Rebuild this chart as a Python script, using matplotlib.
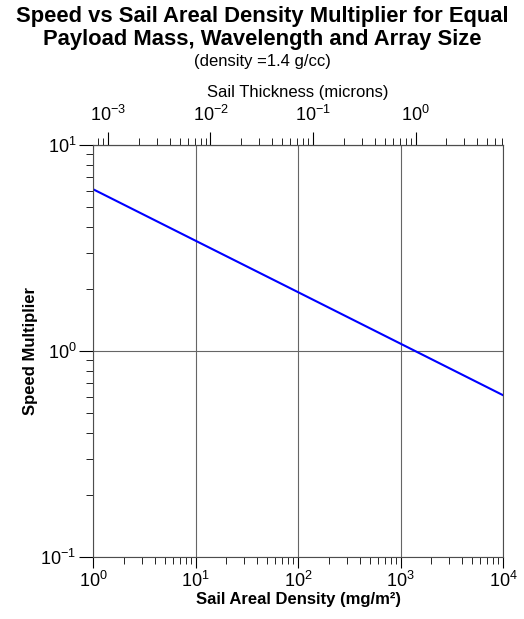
import numpy as np
import matplotlib.pyplot as plt
from matplotlib.ticker import LogLocator, NullFormatter, FixedLocator, LogFormatterSciNotation

plt.rcParams['font.family'] = ['Liberation Sans', 'DejaVu Sans']
plt.rcParams['axes.unicode_minus'] = False
plt.rcParams['mathtext.fontset'] = 'custom'
plt.rcParams['mathtext.rm'] = 'Liberation Sans'
plt.rcParams['mathtext.it'] = 'Liberation Sans:italic'
plt.rcParams['mathtext.bf'] = 'Liberation Sans:bold'

areal_density = [1, 10, 100, 1000, 10000]      # mg/m^2
speed_mult = [6.1, 3.43, 1.93, 1.085, 0.61]
density_gcc = 1.4
thick_major = [1e-3, 1e-2, 1e-1, 1e0]

fig = plt.figure(figsize=(5.24, 6.19), dpi=100)
ax = fig.add_axes([0.1775, 0.1002, 0.7825, 0.6656])

ax.plot(areal_density, speed_mult, color='#0000ff', lw=1.5)
ax.set_xscale('log')
ax.set_yscale('log')
ax.set_xlim(1, 1e4)
ax.set_ylim(0.1, 10)

ax.grid(True, which='major', color='0.4', lw=0.8)
ax.tick_params(which='both', direction='out', right=False, top=False, labelsize=13, colors='black')
ax.tick_params(axis='y', which='major', length=10, pad=2)
ax.tick_params(axis='x', which='major', length=8, pad=2)
ax.tick_params(which='minor', length=5)
ax.yaxis.set_minor_locator(LogLocator(base=10, subs=np.arange(2, 10)))
ax.yaxis.set_minor_formatter(NullFormatter())
ax.xaxis.set_minor_locator(LogLocator(base=10, subs=np.arange(2, 10)))
ax.xaxis.set_minor_formatter(NullFormatter())
for s in ax.spines.values():
    s.set_color('0.3')

ax.set_xlabel('Sail Areal Density (mg/m²)', fontsize=12, fontweight='bold', labelpad=1)
ax.set_ylabel('Speed Multiplier', fontsize=12, fontweight='bold', labelpad=2)

# top axis: thickness in microns = areal density / (density * 1000)
k = density_gcc * 1000
top = ax.secondary_xaxis('top', functions=(lambda x: x / k, lambda t: t * k))
top_minor = [m * d for d in [1e-4, 1e-3, 1e-2, 1e-1, 1e0] for m in range(2, 10)
             if 1 / k <= m * d <= 1e4 / k]
top.xaxis.set_major_locator(FixedLocator(thick_major))
top.xaxis.set_major_formatter(LogFormatterSciNotation())
top.xaxis.set_minor_locator(FixedLocator(top_minor))
top.xaxis.set_minor_formatter(NullFormatter())
top.tick_params(which='both', direction='out', labelsize=13)
top.tick_params(which='major', length=9.4, pad=5)
top.tick_params(which='minor', length=5)
top.spines['top'].set_color('0.3')
top.set_xlabel('Sail Thickness (microns)', fontsize=12, labelpad=6)

fig.text(0.5, 0.99, 'Speed vs Sail Areal Density Multiplier for Equal\nPayload Mass, Wavelength and Array Size',
         ha='center', va='top', fontsize=15.8, fontweight='bold', linespacing=1.1)
fig.text(0.5, 0.913, '(density =1.4 g/cc)', ha='center', va='top', fontsize=12)

fig.savefig('out.png', dpi=100)
